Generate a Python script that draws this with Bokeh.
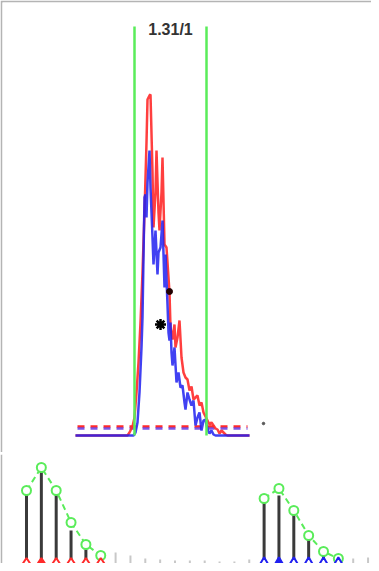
from bokeh.plotting import figure
from bokeh.layouts import column
from bokeh.models import ColumnDataSource, Range1d
from bokeh.core.properties import value
from bokeh.embed import file_html
from bokeh.resources import INLINE

# ---------------- chromatogram data (retention time in min, intensity in k counts)
red_t = [30.75, 31.27, 31.29, 31.32, 31.34, 31.36, 31.38, 31.40, 31.42, 31.44, 31.46, 31.47,
         31.49, 31.50, 31.52, 31.53, 31.55, 31.56, 31.58, 31.59, 31.61, 31.62, 31.64, 31.66,
         31.68, 31.69, 31.70, 31.72, 31.74, 31.75, 31.77, 31.79, 31.81, 31.83, 31.85, 31.87,
         31.89, 31.91, 31.93, 31.95, 31.97, 31.99, 32.01, 32.03, 32.05, 32.07, 32.09, 32.11,
         32.13, 32.15, 32.17, 32.19, 32.21, 32.23, 32.25, 32.27, 32.49]
red_i = [0, 0, 3, 9, 18, 43, 73, 113, 163, 223, 293, 336,
         340, 341, 263, 208, 243, 285, 223, 205, 243, 278, 191, 188,
         158, 143, 108, 96, 111, 88, 98, 115, 78, 63, 58, 56,
         45, 49, 36, 38, 40, 30, 33, 23, 19, 15, 11, 13,
         10, 7, 6, 2, 5, 3, 1, 0, 0]

blue_t = [30.75, 31.33, 31.35, 31.37, 31.39, 31.41, 31.42, 31.44, 31.45, 31.46, 31.47, 31.49,
          31.50, 31.52, 31.53, 31.55, 31.57, 31.58, 31.60, 31.62, 31.64, 31.65, 31.67, 31.68,
          31.69, 31.70, 31.71, 31.72, 31.74, 31.76, 31.78, 31.80, 31.82, 31.84, 31.85, 31.87,
          31.89, 31.91, 31.93, 31.95, 31.97, 31.99, 32.01, 32.03, 32.05, 32.07, 32.09, 32.11,
          32.13, 32.15, 32.49]
blue_i = [0, 0, 3, 13, 43, 88, 118, 238, 241, 218, 253, 285,
          248, 198, 171, 205, 161, 183, 188, 215, 148, 181, 131, 103,
          95, 113, 83, 70, 88, 53, 63, 48, 50, 33, 26, 43,
          36, 30, 35, 10, 18, 23, 5, 15, 16, 6, 2, 5,
          1, 0, 0]

# integration boundaries and label
bound_t = [31.34, 32.06]
bound_top = 409
ratio_label = "1.31/1"
label_t = 31.70
label_i = 406.5

# background (noise) levels
noise_t = [30.77, 32.47]
noise_red = 9
noise_blue = 7

# apex markers
star_t, star_i = [31.60], [111]
dot_t, dot_i = [31.69], [144]
stray_t, stray_i = [32.63], [12]

# ---------------- isotope distributions (index positions, relative abundance)
light_x = [0, 1, 2, 3, 4, 5]
light_obs = [71, 94, 71, 33, 14, 4]
light_theo = [73, 96, 73, 41, 19, 8]

heavy_x = [16, 17, 18, 19, 20, 21]
heavy_obs = [64, 68, 49, 26, 11, 3]
heavy_theo = [65, 75, 53, 28, 12, 5]

other_x = [6, 7, 8, 9, 10, 11, 12, 13, 14, 15, 22, 23]
other_h = [11, 8, 5, 4, 3, 3, 3, 2, 2, 4, 5, 6]

RED = "#ff2a2a"
BLUE = "#2020f0"
GREEN = "#5aec5a"
BORDER = "#b4b4b4"

# ---------------- top panel: chromatogram
top = figure(width=371, height=452, output_backend="svg", toolbar_location=None,
             x_range=Range1d(30.02, 33.71), y_range=Range1d(-17, 433),
             x_axis_location=None, y_axis_location=None,
             min_border_left=2, min_border_top=2, min_border_right=0, min_border_bottom=0,
             border_fill_color=BORDER, background_fill_color="white",
             outline_line_color=None)
top.grid.grid_line_color = None

top.line(noise_t, [noise_red, noise_red], line_color=RED, line_width=2.5, line_dash="7 6")
top.line(noise_t, [noise_blue, noise_blue], line_color="#5a2ae0", line_width=2.5,
         line_dash="7 6", line_alpha=0.8)

top.line(red_t, red_i, line_color=RED, line_width=2.5, line_alpha=0.9)
top.line(blue_t, blue_i, line_color=BLUE, line_width=2.5, line_alpha=0.85)

top.segment(x0=bound_t, y0=[0, 0], x1=bound_t, y1=[bound_top, bound_top],
            line_color=GREEN, line_width=2.5)

top.scatter(star_t, star_i, marker="asterisk", size=11, line_color="black", line_width=2.5)
top.scatter(dot_t, dot_i, marker="circle", size=6, fill_color="#220000", line_color="#220000")
top.scatter(stray_t, stray_i, marker="circle", size=2.5, fill_color="#555", line_color="#555")

top.text(x=[label_t], y=[label_i], text=[ratio_label], text_font=value("Liberation Sans"),
         text_font_style="bold", text_font_size="16px", text_color="#333333",
         text_align="center", text_baseline="middle")

# ---------------- separator
sep = figure(width=371, height=2, output_backend="svg", toolbar_location=None,
             x_axis_location=None, y_axis_location=None, min_border=0,
             border_fill_color="#444444", background_fill_color="#444444",
             outline_line_color=None)
sep.grid.grid_line_color = None

# ---------------- bottom panel: isotope stems
bot = figure(width=371, height=109, output_backend="svg", toolbar_location=None,
             x_range=Range1d(-1.616, 23.232), y_range=Range1d(0, 109),
             x_axis_location=None, y_axis_location=None,
             min_border_left=2, min_border_top=0, min_border_right=0, min_border_bottom=0,
             border_fill_color=BORDER, background_fill_color="white",
             outline_line_color=None)
bot.grid.grid_line_color = None

bot.segment(x0=other_x, y0=[0] * len(other_x), x1=other_x, y1=other_h,
            line_color="#c8c8c8", line_width=2)

for xs, obs, theo, mcol, mk in [(light_x, light_obs, light_theo, RED, "diamond"),
                                 (heavy_x, heavy_obs, heavy_theo, BLUE, "triangle")]:
    bot.segment(x0=xs, y0=[0] * len(xs), x1=xs, y1=obs, line_color="#3a3a3a", line_width=3)
    bot.line(xs, theo, line_color=GREEN, line_width=2, line_dash="6 4")
    bot.scatter(xs, theo, marker="circle", size=9, line_color=GREEN, line_width=2,
                fill_color="white")
    fills = ["white"] * len(xs)
    fills[1] = mcol
    src = ColumnDataSource(dict(x=xs, y=[0] * len(xs), f=fills))
    bot.scatter("x", "y", source=src, marker=mk, size=11, line_color=mcol, line_width=2,
                fill_color="f")

layout = column(top, sep, bot, spacing=0)

open("out.html", "w").write(file_html(layout, INLINE))
